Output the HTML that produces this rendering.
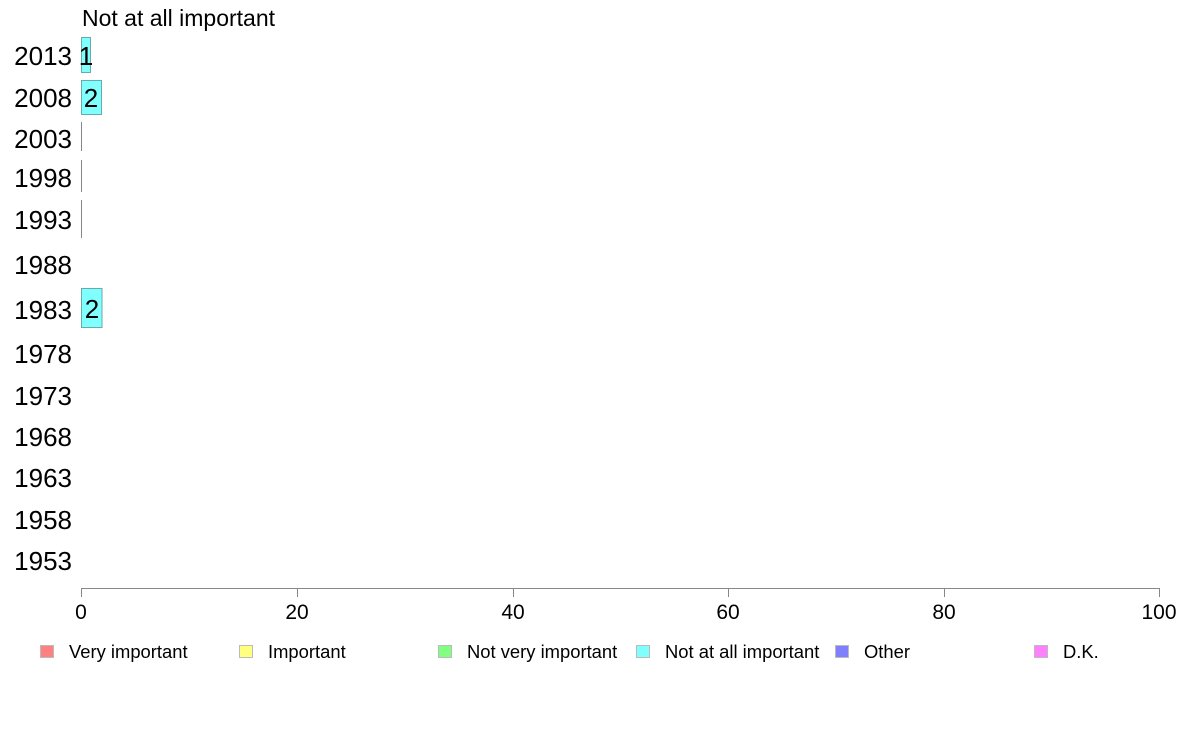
<!DOCTYPE html>
<html><head><style>body{margin:0;background:#fff}svg{display:block;font-family:"Liberation Sans",Arial,sans-serif}</style></head><body>
<svg width="1188" height="736" viewBox="0 0 1188 736">
<text x="82" y="26" font-size="23">Not at all important</text>
<g font-size="26" text-anchor="end" fill="#000">
<text x="72" y="65">2013</text><text x="72" y="107">2008</text><text x="72" y="148">2003</text>
<text x="72" y="187">1998</text><text x="72" y="229">1993</text><text x="72" y="274">1988</text>
<text x="72" y="319">1983</text><text x="72" y="363">1978</text><text x="72" y="405">1973</text>
<text x="72" y="446">1968</text><text x="72" y="487">1963</text><text x="72" y="529">1958</text>
<text x="72" y="570">1953</text></g>
<g fill="#80ffff" stroke="#6aaaaa" stroke-width="1">
<rect x="81.5" y="37.5" width="9" height="35"/>
<rect x="81.5" y="80.5" width="20" height="34"/>
<rect x="81.5" y="288.5" width="20.5" height="39"/></g>
<g stroke="#888" stroke-width="1">
<line x1="81.5" y1="122" x2="81.5" y2="151"/><line x1="81.5" y1="160" x2="81.5" y2="192"/><line x1="81.5" y1="200" x2="81.5" y2="238"/>
<line x1="81.5" y1="588.5" x2="1159.5" y2="588.5"/>
<line x1="81.5" y1="588" x2="81.5" y2="597"/><line x1="297.5" y1="588" x2="297.5" y2="597"/><line x1="513.5" y1="588" x2="513.5" y2="597"/><line x1="728.5" y1="588" x2="728.5" y2="597"/><line x1="944.5" y1="588" x2="944.5" y2="597"/><line x1="1159.5" y1="588" x2="1159.5" y2="597"/></g>
<g font-size="26" text-anchor="middle">
<text x="86" y="65">1</text><text x="91" y="107">2</text><text x="92" y="318">2</text></g>
<g font-size="21" text-anchor="middle">
<text x="81" y="619">0</text><text x="297" y="619">20</text><text x="513" y="619">40</text><text x="728" y="619">60</text><text x="944" y="619">80</text><text x="1159" y="619">100</text></g>
<g font-size="18.4" stroke-width="1">
<rect x="40.5" y="645.5" width="13" height="12" fill="#ff8080" stroke="#bbb"/><text x="69" y="658">Very important</text>
<rect x="239.5" y="645.5" width="13" height="12" fill="#ffff80" stroke="#bbb"/><text x="268" y="658">Important</text>
<rect x="438.5" y="645.5" width="13" height="12" fill="#80ff80" stroke="#bbb"/><text x="467" y="658">Not very important</text>
<rect x="636.5" y="645.5" width="13" height="12" fill="#80ffff" stroke="#bbb"/><text x="665" y="658">Not at all important</text>
<rect x="835.5" y="645.5" width="13" height="12" fill="#8080ff" stroke="#bbb"/><text x="864" y="658">Other</text>
<rect x="1034.5" y="645.5" width="13" height="12" fill="#ff80ff" stroke="#bbb"/><text x="1063" y="658">D.K.</text>
</g>
</svg>
</body></html>
